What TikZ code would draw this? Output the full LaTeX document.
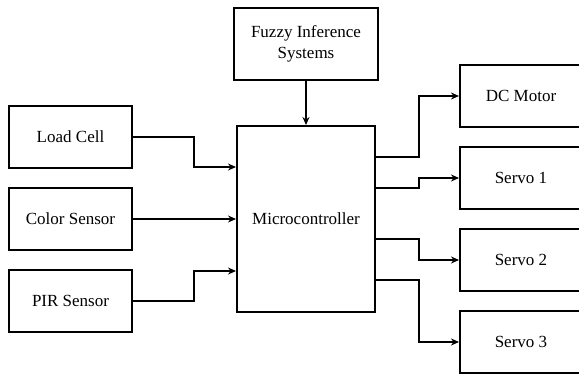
\documentclass[tikz,border=0pt]{standalone}
\usepackage{fontspec}
\setmainfont{Liberation Serif}
\usetikzlibrary{arrows.meta}
\begin{document}
\begin{tikzpicture}[x=1pt,y=-1pt,
  box/.style={draw, line width=2pt, rectangle, inner sep=0pt, align=center,
    font=\rmfamily\fontsize{17}{21}\selectfont},
  lbox/.style={box, minimum width=123pt, minimum height=62pt},
  rbox/.style={box, minimum width=122pt, minimum height=62pt},
  arr/.style={line width=2pt, -{Stealth[length=8pt,width=7pt]}}]
\useasboundingbox (0,0) rectangle (579,374);
\clip (0,0) rectangle (579,374);
\node[box, minimum width=144pt, minimum height=72pt] (fz) at (306,44) {Fuzzy Inference\\Systems};
\node[box, minimum width=138pt, minimum height=186pt] (mc) at (306,219) {Microcontroller};
\node[lbox] (lc) at (70.5,137) {Load Cell};
\node[lbox] (cs) at (70.5,219) {Color Sensor};
\node[lbox] (pir) at (70.5,301) {PIR Sensor};
\node[rbox] (dc) at (521,96) {DC Motor};
\node[rbox] (s1) at (521,178) {Servo 1};
\node[rbox] (s2) at (521,260) {Servo 2};
\node[rbox] (s3) at (521,342) {Servo 3};
\draw[arr] (fz.south) -- (mc.north);
\draw[arr] (lc.east) -- ++(61,0) |- ([yshift=52pt]mc.west);
\draw[arr] (cs.east) -- (cs.east -| mc.west);
\draw[arr] (pir.east) -- ++(61,0) |- ([yshift=-52pt]mc.west);
\draw[arr] ([yshift=62pt]mc.east) -- ++(43,0) |- (dc.west);
\draw[arr] ([yshift=31pt]mc.east) -- ++(43,0) |- (s1.west);
\draw[arr] ([yshift=-20pt]mc.east) -- ++(43,0) |- (s2.west);
\draw[arr] ([yshift=-61pt]mc.east) -- ++(43,0) |- (s3.west);
\end{tikzpicture}
\end{document}
